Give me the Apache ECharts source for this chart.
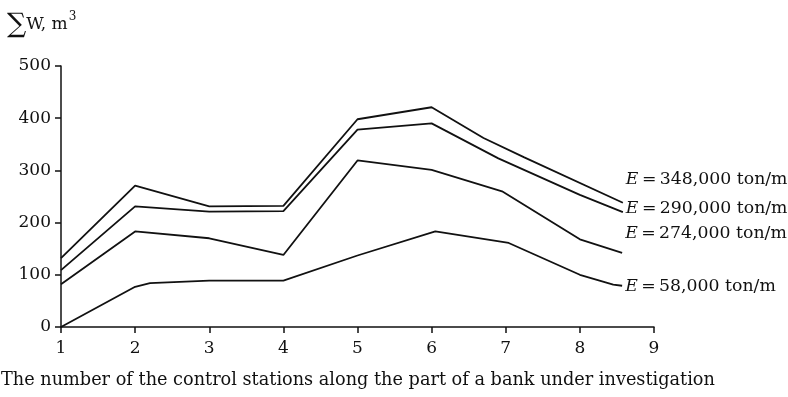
<!DOCTYPE html>
<html>
<head>
<meta charset="utf-8">
<script src="https://cdn.jsdelivr.net/npm/echarts@6/dist/echarts.min.js"></script>
<style>
html,body{margin:0;padding:0;background:#fff;}
#chart{width:788px;height:397px;}
</style>
</head>
<body>
<div id="chart"></div>
<script>
// ---- data ----
const xTicks = [1, 2, 3, 4, 5, 6, 7, 8, 9];
const yTicks = [0, 100, 200, 300, 400, 500];

const e348X = [1, 2, 3, 4, 5, 6, 6.7, 7.25, 8.58];
const e348Y = [132, 271, 231, 232, 398, 421, 362, 325, 238];

const e290X = [1, 2, 3, 4, 5, 6, 6.9, 8, 8.58];
const e290Y = [109, 231, 221, 222, 378, 390, 323, 253, 220];

const e274X = [1, 2, 3, 4, 5, 6, 6.95, 8, 8.57];
const e274Y = [82, 183, 170, 138, 319, 301, 260, 168, 142];

const e58X = [1, 2, 2.2, 3, 4, 5, 6.05, 7.04, 8, 8.45, 8.57];
const e58Y = [0, 77, 84, 89, 89, 137, 183, 161, 100, 81, 79];

const seriesLabels = ['348,000 ton/m', '290,000 ton/m', '274,000 ton/m', '58,000 ton/m'];

// ---- chart ----
const FONT = 'DejaVu Serif';
const ink = '#111';
function pairs(xs, ys) { return xs.map((x, i) => [x, ys[i]]); }

const seriesDefs = [
  { xs: e348X, ys: e348Y, label: seriesLabels[0], dy: -23 },
  { xs: e290X, ys: e290Y, label: seriesLabels[1], dy: -4 },
  { xs: e274X, ys: e274Y, label: seriesLabels[2], dy: -19 },
  { xs: e58X, ys: e58Y, label: seriesLabels[3], dy: 1 }
];

const chart = echarts.init(document.getElementById('chart'), null, { renderer: 'canvas' });
chart.setOption({
  animation: false,
  backgroundColor: '#fff',
  textStyle: { fontFamily: FONT, color: ink },
  grid: { left: 61, right: 134, top: 66, bottom: 70, containLabel: false },
  graphic: [
    {
      type: 'text', left: 7, top: 11,
      style: {
        text: '{s|∑}{t|W, m}{sup|3}',
        rich: {
          s: { fontFamily: FONT, fontSize: 27, fill: ink, verticalAlign: 'bottom' },
          t: { fontFamily: FONT, fontSize: 17, fill: ink },
          sup: { fontFamily: FONT, fontSize: 12, fill: ink, verticalAlign: 'top', padding: [0, 0, 9, 1] }
        }
      }
    },
    {
      type: 'text', left: 1, top: 371,
      style: {
        text: 'The number of the control stations along the part of a bank under investigation',
        fontFamily: FONT, fontSize: 17.7, fill: ink
      }
    }
  ],
  xAxis: {
    type: 'value', min: 1, max: 9, interval: 1,
    axisLine: { show: true, onZero: false, lineStyle: { color: ink, width: 1.5 } },
    axisTick: { show: true, inside: false, length: 6, lineStyle: { color: ink, width: 1.5 } },
    axisLabel: { fontFamily: FONT, fontSize: 17, color: ink, margin: 13,
      customValues: xTicks },
    splitLine: { show: false }
  },
  yAxis: {
    type: 'value', min: 0, max: 500, interval: 100,
    axisLine: { show: true, lineStyle: { color: ink, width: 1.5 } },
    axisTick: { show: true, inside: false, length: 6, lineStyle: { color: ink, width: 1.5 } },
    axisLabel: { fontFamily: FONT, fontSize: 17, color: ink, margin: 10 },
    splitLine: { show: false }
  },
  series: seriesDefs.map(d => ({
    type: 'line',
    data: pairs(d.xs, d.ys),
    showSymbol: false,
    symbol: 'none',
    lineStyle: { color: ink, width: 1.8 },
    endLabel: {
      show: true,
      distance: 3,
      offset: [0, d.dy],
      formatter: '{i|E}\u2009=\u2009' + d.label,
      fontFamily: FONT, fontSize: 17.3, color: ink,
      rich: { i: { fontFamily: FONT, fontStyle: 'italic', fontSize: 17.3, color: ink } }
    },
    emphasis: { disabled: true }
  }))
});
</script>
</body>
</html>
